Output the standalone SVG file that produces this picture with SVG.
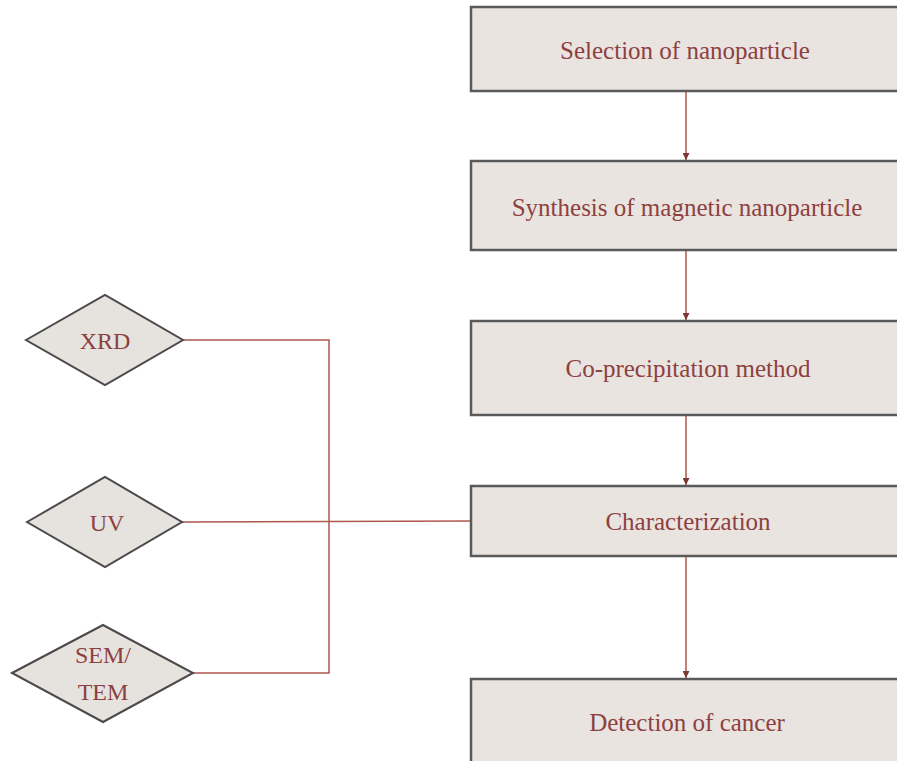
<svg xmlns="http://www.w3.org/2000/svg" width="897" height="761" viewBox="0 0 897 761">
<style>
.box{fill:#e9e4df;stroke:#5a5a5a;stroke-width:2.5}
.dia{fill:#e6e2dd;stroke:#4a4a4a;stroke-width:2}
.t{font-family:"Liberation Serif","Times New Roman",serif;font-size:25px;fill:#8e4040;text-anchor:middle;dominant-baseline:central}
.d{font-size:24px}
.c{fill:none;stroke:#b0574c;stroke-width:1.5}
</style>
<defs>
<marker id="ah" viewBox="0 0 10 10" refX="10" refY="5" markerWidth="7" markerHeight="7" orient="auto" markerUnits="userSpaceOnUse">
<path d="M0,0 L10,5 L0,10 z" fill="#7a3b2e"/>
</marker>
</defs>
<rect width="897" height="761" fill="#ffffff"/>
<g id="connectors">
<line class="c" x1="686" y1="91" x2="686" y2="160" marker-end="url(#ah)"/>
<line class="c" x1="686" y1="250" x2="686" y2="320" marker-end="url(#ah)"/>
<line class="c" x1="686" y1="415" x2="686" y2="485" marker-end="url(#ah)"/>
<line class="c" x1="686" y1="556" x2="686" y2="678" marker-end="url(#ah)"/>
<polyline class="c" points="183,340 329,340 329,673 193,673"/>
<line class="c" x1="182" y1="522" x2="471" y2="521"/>
</g>
<g id="n1"><rect class="box" x="471" y="7" width="440" height="84"/><text class="t" x="685" y="50">Selection of nanoparticle</text></g>
<g id="n2"><rect class="box" x="471" y="161" width="440" height="89"/><text class="t" x="687" y="207">Synthesis of magnetic nanoparticle</text></g>
<g id="n3"><rect class="box" x="471" y="321" width="440" height="94"/><text class="t" x="688" y="368">Co-precipitation method</text></g>
<g id="n4"><rect class="box" x="471" y="486" width="440" height="70"/><text class="t" x="688" y="521">Characterization</text></g>
<g id="n5"><rect class="box" x="471" y="679" width="440" height="100"/><text class="t" x="687" y="722">Detection of cancer</text></g>
<g id="xrd"><polygon class="dia" points="26,340 105,295 183,340 105,385"/><text class="t d" x="105" y="341">XRD</text></g>
<g id="uv"><polygon class="dia" points="27,522 105,477 182,522 105,567"/><text class="t d" x="107" y="523">UV</text></g>
<g id="semtem"><polygon class="dia" points="12,673 103,625 193,673 103,722"/><text class="t d" x="103" y="655">SEM/</text><text class="t d" x="103" y="692">TEM</text></g>
</svg>
